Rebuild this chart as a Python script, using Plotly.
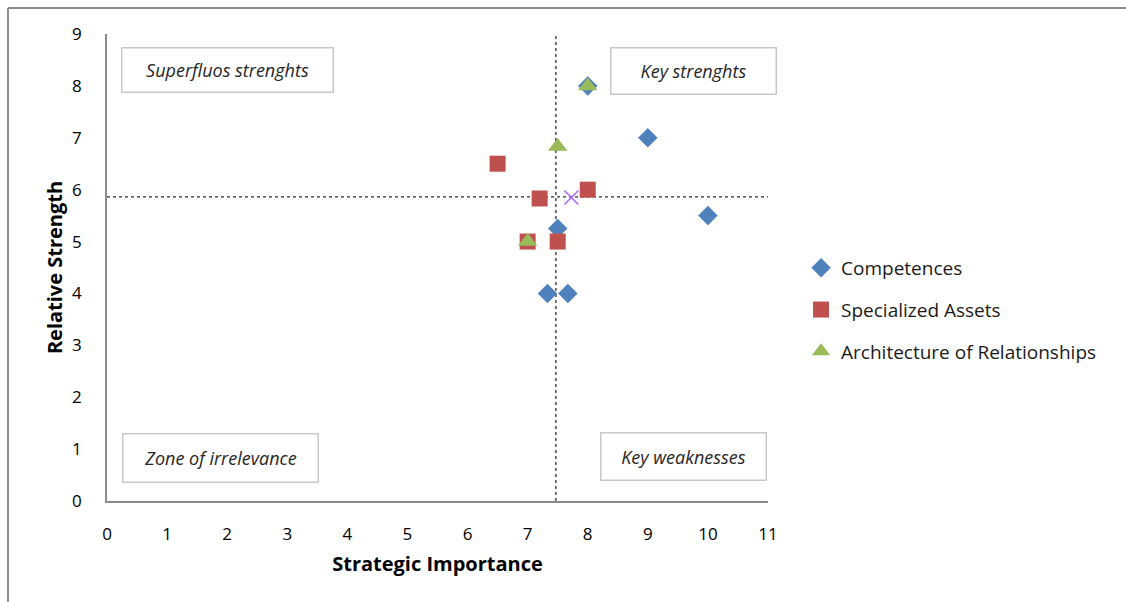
import plotly.graph_objects as go

# Series values (x = strategic importance, y = relative strength)
comp_x = [8.0, 9.0, 10.0, 7.5, 7.33, 7.67]
comp_y = [8.0, 7.0, 5.5, 5.25, 4.0, 4.0]
assets_x = [6.5, 7.2, 8.0, 7.0, 7.5]
assets_y = [6.5, 5.83, 6.0, 5.0, 5.0]
arch_x = [8.0, 7.5, 7.0]
arch_y = [8.0, 6.83, 5.0]

series_names = ["Competences", "Specialized Assets", "Architecture of Relationships"]
x_ticks = list(range(0, 12))
y_ticks = list(range(0, 10))

# Quadrant divider positions
divider_x = 7.47
divider_y = 5.86

quadrant_labels = ["Superfluos strenghts", "Key strenghts", "Zone of irrelevance", "Key weaknesses"]

all_x = comp_x + assets_x + arch_x
all_y = comp_y + assets_y + arch_y
mean_x = sum(all_x) / len(all_x)
mean_y = sum(all_y) / len(all_y)

FONT = "Open Sans"

fig = go.Figure()

fig.add_trace(go.Scatter(
    x=comp_x, y=comp_y, mode="markers", name=series_names[0], legendgroup="a",
    marker=dict(symbol="diamond", size=15, color="#4F81BD"),
))
fig.add_trace(go.Scatter(
    x=assets_x, y=assets_y, mode="markers", name=series_names[1], legendgroup="b",
    marker=dict(symbol="square", size=16, color="#C0504D"),
))
fig.add_trace(go.Scatter(
    x=arch_x, y=arch_y, mode="markers", name=series_names[2], legendgroup="c",
    marker=dict(symbol="triangle-up", size=17, color="#9BBB59"),
))
fig.add_trace(go.Scatter(
    x=[mean_x], y=[mean_y], mode="markers", showlegend=False,
    marker=dict(symbol="x-thin-open", size=14, line=dict(width=1.5, color="#9a86bd")),
))

# Dotted quadrant dividers
fig.add_shape(type="line", x0=divider_x, x1=divider_x, y0=0, y1=9,
              line=dict(color="#303030", width=1.3, dash="dot"), layer="below")
fig.add_shape(type="line", x0=0, x1=11, y0=divider_y, y1=divider_y,
              line=dict(color="#303030", width=1.3, dash="dot"), layer="below")

# Chart area frame (left and top edges)
fig.add_shape(type="line", xref="paper", yref="paper", x0=-0.1498, x1=-0.1498, y0=1.0557, y1=-0.3,
              line=dict(color="#8c8c8c", width=2))
fig.add_shape(type="line", xref="paper", yref="paper", x0=-0.1498, x1=1.6, y0=1.0557, y1=1.0557,
              line=dict(color="#8c8c8c", width=2))

# Quadrant label boxes: (center x, center y, box width, box height)
box_specs = [(2.01, 8.30, 213, 46), (9.76, 8.29, 167, 48), (1.89, 0.83, 197, 50), (9.59, 0.86, 167, 49)]
for text, (cx, cy, bw, bh) in zip(quadrant_labels, box_specs):
    fig.add_annotation(
        x=cx, y=cy, xref="x", yref="y", text="<i>" + text + "</i>", showarrow=False,
        width=bw - 3, height=bh - 3, borderpad=0, borderwidth=1.5, bordercolor="#c8c8c8",
        bgcolor="white", align="center", valign="middle",
        font=dict(family=FONT, size=18, color="#262626"),
    )

fig.update_layout(
    width=1126, height=602,
    margin=dict(l=107, r=358, t=34, b=101),
    paper_bgcolor="white", plot_bgcolor="white",
    font=dict(family=FONT, size=17, color="black"),
    legend=dict(
        x=1.05, y=0.409, xanchor="left", yanchor="middle",
        font=dict(family=FONT, size=19, color="#1a1a1a"),
        tracegroupgap=14, itemwidth=30, bgcolor="rgba(0,0,0,0)",
    ),
    xaxis=dict(
        range=[0, 11], tickvals=x_ticks, showgrid=False, zeroline=False,
        showline=True, linecolor="#8c8c8c", linewidth=1.5, ticks="",
        ticklabelstandoff=17, tickfont=dict(size=17),
        title=dict(text="<b>Strategic Importance</b>", font=dict(family=FONT, size=20), standoff=13),
    ),
    yaxis=dict(
        range=[0, 9], tickvals=y_ticks, showgrid=False, zeroline=False,
        showline=True, linecolor="#8c8c8c", linewidth=1.5, ticks="",
        ticklabelstandoff=20, tickfont=dict(size=17),
        title=dict(text="<b>Relative Strength</b>", font=dict(family=FONT, size=20), standoff=4),
    ),
)

fig.write_html("out.html")
